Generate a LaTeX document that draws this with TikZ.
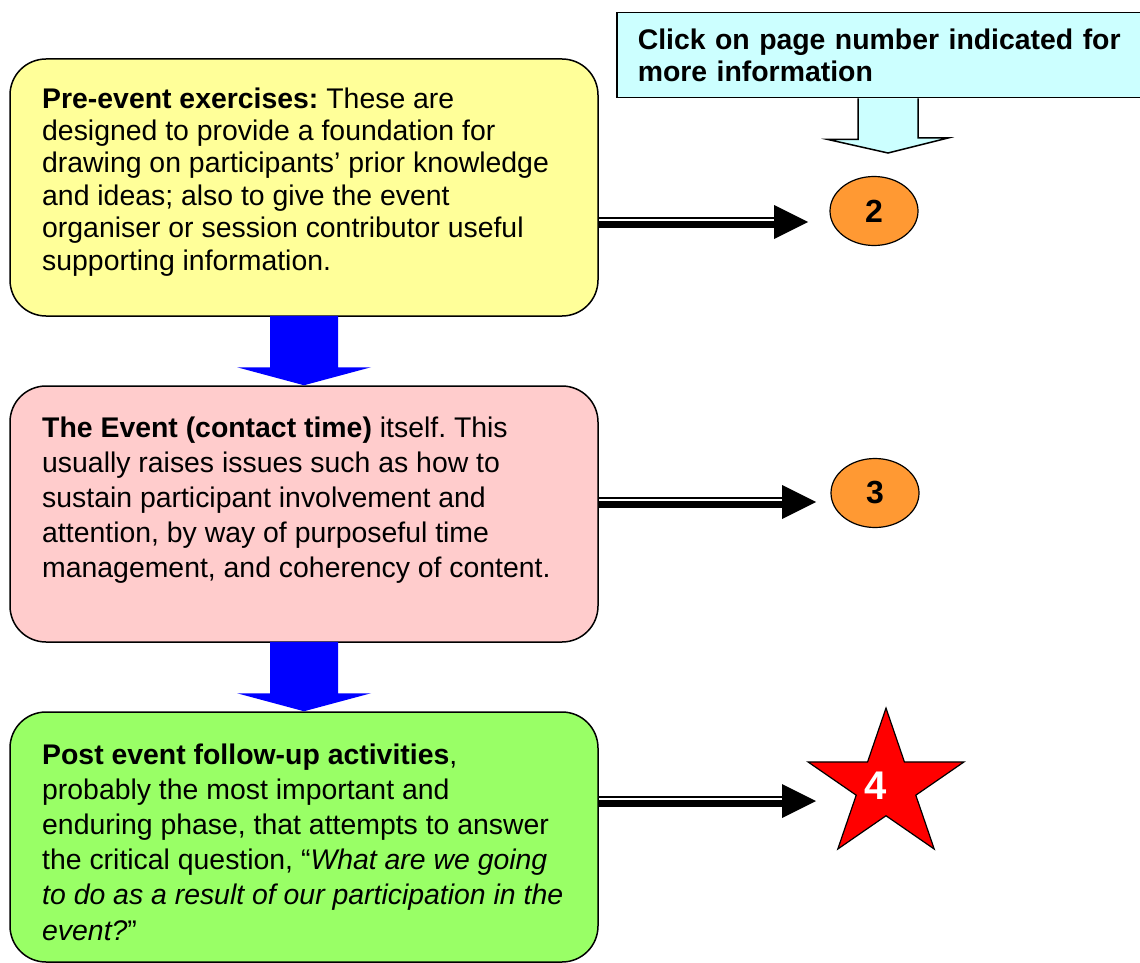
\documentclass[tikz,border=0pt]{standalone}
\usepackage{fontspec}
\setmainfont{Liberation Sans}
\usetikzlibrary{shapes.geometric, calc}
\frenchspacing

\definecolor{preyellow}{HTML}{FFFF99}
\definecolor{eventpink}{HTML}{FFCCCC}
\definecolor{postgreen}{HTML}{99FF66}
\definecolor{notecyan}{HTML}{CCFFFF}
\definecolor{pageorange}{HTML}{FF9933}

\tikzset{
  phase/.style={draw, line width=1.5pt, rounded corners=36pt, minimum width=588pt, inner sep=0pt},
  phasetext/.style={anchor=base west, inner sep=0pt, align=left},
  pagenum/.style={ellipse, draw, line width=1.2pt, fill=pageorange, minimum width=88pt, minimum height=69pt, inner sep=0pt, font=\fontsize{32}{32}\selectfont\bfseries},
}

\begin{document}
\begin{tikzpicture}[x=1pt, y=-1pt]
    \useasboundingbox (0,0) rectangle (1140,963);
    % the three phases
    \node[phase, fill=preyellow, minimum height=257pt] (pre) at (304,187.5) {};
    \node[phase, fill=eventpink, minimum height=256pt] (event) at (304,514) {};
    \node[phase, fill=postgreen, minimum height=250pt] (post) at (304,837) {};
    % base west sits on the last line
    \node[phasetext, font=\fontsize{28.4}{32.4}\selectfont] (pretext) at (42,270)
        {\textbf{Pre-event exercises:} These are\\
         designed to provide a foundation for\\
         drawing on participants’ prior knowledge\\
         and ideas; also to give the event\\
         organiser or session contributor useful\\
         supporting information.};
    \node[phasetext, font=\fontsize{28.4}{35}\selectfont] (eventtext) at (42,577)
        {\textbf{The Event (contact time)} itself. This\\
         usually raises issues such as how to\\
         sustain participant involvement and\\
         attention, by way of purposeful time\\
         management, and coherency of content.};
    \node[phasetext, font=\fontsize{28.4}{35.2}\selectfont] (posttext) at (42,940)
        {\textbf{Post event follow-up activities},\\
         probably the most important and\\
         enduring phase, that attempts to answer\\
         the critical question, “\textit{What are we going}\\
         \textit{to do as a result of our participation in the}\\
         \textit{event?}”};
    % blue arrows between phases
    \foreach \from/\to in {pre/event, event/post} {
        \fill[blue] ($(\from.south)+(-34,-1)$) -- ($(\to.north)+(-34,-18)$) -- ($(\to.north)+(-67,-18)$)
            -- (\to.north) -- ($(\to.north)+(67,-18)$) -- ($(\to.north)+(34,-18)$) -- ($(\from.south)+(34,-1)$) -- cycle;
    }
    % note at the top right
    \node[draw, line width=1.5pt, fill=notecyan, anchor=north west, minimum height=85pt,
          text width=500pt, inner xsep=21pt, inner ysep=0pt, align=left,
          font=\fontsize{28.4}{32}\selectfont\bfseries] (note) at (616,12)
        {Click on page number indicated for\\ more information};
    \coordinate (notetip) at (888,153);
    \filldraw[fill=notecyan, line width=1.5pt] ($(note.south -| notetip)+(-30,0)$) -- ++(0,41) -- ++(-30,0)
        -- (notetip) -- ($(notetip)+(60,-15)$) -- ++(-30,0) -- ($(note.south -| notetip)+(30,0)$);
    % page numbers
    \node[pagenum] (two) at (874,211) {2};
    \node[pagenum] (three) at (875,493) {3};
    \node[star, star points=5, star point ratio=2.618, draw, line width=1.2pt, fill=red, minimum size=164pt,
          inner sep=0pt, yscale=0.95,
          label={[text=white, font=\fontsize{40}{40}\selectfont\bfseries, xshift=-10pt]center:4}] (four) at (886,786) {};
    % double arrows to the pages
    \foreach \src/\dst/\tx/\ty in {pre/two/808/222, event/three/816/502, post/four/816/801} {
        \coordinate (tip-\dst) at (\tx,\ty);
        \draw[line width=7pt] ($(\src.east |- tip-\dst)+(0,2.5)$) -- ($(tip-\dst)+(-34,2.5)$);
        \draw[line width=1.5pt] ($(\src.east |- tip-\dst)+(0,-4)$) -- ($(tip-\dst)+(-34,-4)$);
        \fill ($(tip-\dst)+(-34,-17)$) -- (tip-\dst) -- ($(tip-\dst)+(-34,17)$) -- cycle;
    }
\end{tikzpicture}
\end{document}
